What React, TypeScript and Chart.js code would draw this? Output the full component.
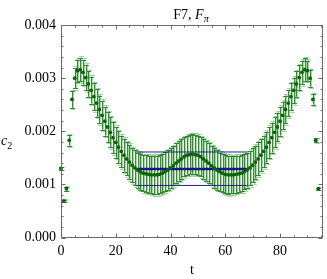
import React, { useEffect, useRef } from 'react';
import { Chart, registerables } from 'chart.js';

Chart.register(...registerables);

// ---- data ----
const times = [
  0, 1, 2, 3, 4, 5, 6, 7, 8, 9, 10, 11, 12, 13, 14, 15, 16, 17, 18, 19,
  20, 21, 22, 23, 24, 25, 26, 27, 28, 29, 30, 31, 32, 33, 34, 35, 36, 37, 38, 39,
  40, 41, 42, 43, 44, 45, 46, 47, 48, 49, 50, 51, 52, 53, 54, 55, 56, 57, 58, 59,
  60, 61, 62, 63, 64, 65, 66, 67, 68, 69, 70, 71, 72, 73, 74, 75, 76, 77, 78, 79,
  80, 81, 82, 83, 84, 85, 86, 87, 88, 89, 90, 91, 92, 93, 94,
];

const c2Values = [
  0.00130, 0.00069, 0.00092, 0.00183, 0.00260, 0.00300, 0.00314, 0.00316, 0.00311, 0.00301,
  0.00289, 0.00277, 0.00265, 0.00253, 0.00241, 0.00230, 0.00219, 0.00208, 0.00198, 0.00188,
  0.00179, 0.00170, 0.00162, 0.00155, 0.00148, 0.00142, 0.00136, 0.00131, 0.00127, 0.00124,
  0.00121, 0.00120, 0.00119, 0.00118, 0.00118, 0.00118, 0.00119, 0.00121, 0.00124, 0.00127,
  0.00131, 0.00135, 0.00140, 0.00144, 0.00148, 0.00152, 0.00155, 0.00156, 0.00157, 0.00156,
  0.00155, 0.00152, 0.00148, 0.00144, 0.00140, 0.00135, 0.00131, 0.00127, 0.00124, 0.00121,
  0.00119, 0.00118, 0.00118, 0.00118, 0.00119, 0.00120, 0.00121, 0.00124, 0.00127, 0.00131,
  0.00136, 0.00142, 0.00148, 0.00155, 0.00162, 0.00170, 0.00179, 0.00188, 0.00198, 0.00208,
  0.00219, 0.00230, 0.00241, 0.00253, 0.00265, 0.00277, 0.00289, 0.00301, 0.00311, 0.00316,
  0.00314, 0.00300, 0.00260, 0.00183, 0.00092,
];

// total (light) error
const errTotal = [
  0.00003, 0.00003, 0.00005, 0.00012, 0.00018, 0.00022, 0.00024, 0.00025, 0.00026, 0.00027,
  0.00027, 0.00028, 0.00028, 0.00029, 0.00029, 0.00030, 0.00030, 0.00031, 0.00031, 0.00032,
  0.00032, 0.00033, 0.00033, 0.00034, 0.00034, 0.00035, 0.00035, 0.00036, 0.00036, 0.00037,
  0.00037, 0.00038, 0.00038, 0.00038, 0.00039, 0.00039, 0.00039, 0.00039, 0.00040, 0.00040,
  0.00040, 0.00040, 0.00040, 0.00040, 0.00040, 0.00040, 0.00040, 0.00040, 0.00040, 0.00040,
  0.00040, 0.00040, 0.00040, 0.00040, 0.00040, 0.00040, 0.00040, 0.00040, 0.00039, 0.00039,
  0.00039, 0.00039, 0.00038, 0.00038, 0.00038, 0.00037, 0.00037, 0.00036, 0.00036, 0.00035,
  0.00035, 0.00034, 0.00034, 0.00033, 0.00033, 0.00032, 0.00032, 0.00031, 0.00031, 0.00030,
  0.00030, 0.00029, 0.00029, 0.00028, 0.00028, 0.00027, 0.00027, 0.00026, 0.00025, 0.00024,
  0.00022, 0.00018, 0.00012, 0.00005, 0.00003,
];

// statistical (dark) error
const errStat = [
  0.00002, 0.00002, 0.00004, 0.00010, 0.00016, 0.00019, 0.00021, 0.00022, 0.00023, 0.00024,
  0.00024, 0.00025, 0.00025, 0.00026, 0.00026, 0.00027, 0.00027, 0.00028, 0.00028, 0.00029,
  0.00029, 0.00030, 0.00030, 0.00031, 0.00031, 0.00032, 0.00032, 0.00033, 0.00033, 0.00034,
  0.00034, 0.00035, 0.00035, 0.00035, 0.00036, 0.00036, 0.00036, 0.00036, 0.00037, 0.00037,
  0.00037, 0.00037, 0.00037, 0.00037, 0.00037, 0.00037, 0.00037, 0.00037, 0.00037, 0.00037,
  0.00037, 0.00037, 0.00037, 0.00037, 0.00037, 0.00037, 0.00037, 0.00037, 0.00036, 0.00036,
  0.00036, 0.00036, 0.00035, 0.00035, 0.00035, 0.00034, 0.00034, 0.00033, 0.00033, 0.00032,
  0.00032, 0.00031, 0.00031, 0.00030, 0.00030, 0.00029, 0.00029, 0.00028, 0.00028, 0.00027,
  0.00027, 0.00026, 0.00026, 0.00025, 0.00025, 0.00024, 0.00024, 0.00023, 0.00022, 0.00021,
  0.00019, 0.00016, 0.00010, 0.00004, 0.00002,
];

const plateauRange = [27.5, 68];
const plateauCentral = 0.00129;
const plateauUpper = 0.00161;
const plateauLower = 0.00098;

const xMajorTicks = [0, 20, 40, 60, 80];
const yMajorTicks = [0, 0.001, 0.002, 0.003, 0.004];

const FONT = "'Liberation Serif', 'DejaVu Serif', serif";
const FRAME = '#6a6a6a';

const errorBarPlugin = {
  id: 'errbars',
  beforeDatasetsDraw(chart: any) {
    const ctx = chart.ctx;
    const xs = chart.scales.x;
    const ys = chart.scales.y;
    ctx.save();
    ctx.lineWidth = 1;
    const draw = (err: number[], color: string, dx: number) => {
      ctx.strokeStyle = color;
      ctx.beginPath();
      for (let i = 0; i < times.length; i++) {
        const px = Math.round(xs.getPixelForValue(times[i])) + 0.5 + dx;
        const yTop = ys.getPixelForValue(c2Values[i] + err[i]);
        const yBot = ys.getPixelForValue(c2Values[i] - err[i]);
        ctx.moveTo(px, yTop);
        ctx.lineTo(px, yBot);
        ctx.moveTo(px - 2.5, Math.round(yTop) + 0.5);
        ctx.lineTo(px + 2.5, Math.round(yTop) + 0.5);
        ctx.moveTo(px - 2.5, Math.round(yBot) + 0.5);
        ctx.lineTo(px + 2.5, Math.round(yBot) + 0.5);
      }
      ctx.stroke();
    };
    draw(errTotal, 'rgba(130,195,130,0.7)', 1);
    draw(errStat, 'rgba(40,135,40,0.95)', 0);
    ctx.restore();
  },
};

const framePlugin = {
  id: 'frame',
  afterDatasetsDraw(chart: any) {
    const ctx = chart.ctx;
    const { left, right, top, bottom } = chart.chartArea;
    const xs = chart.scales.x;
    const ys = chart.scales.y;
    ctx.save();
    ctx.strokeStyle = FRAME;
    ctx.lineWidth = 1;
    const L = Math.round(left) + 0.5;
    const R = Math.round(right) - 0.5;
    const T = Math.round(top) + 0.5;
    const B = Math.round(bottom) - 0.5;
    ctx.beginPath();
    ctx.rect(L, T, R - L, B - T);
    ctx.stroke();
    ctx.beginPath();
    for (let v = 0; v <= 95; v += 5) {
      const major = v % 20 === 0;
      const len = major ? 4 : 2;
      const px = Math.round(xs.getPixelForValue(v)) + 0.5;
      ctx.moveTo(px, B);
      ctx.lineTo(px, B - len);
      ctx.moveTo(px, T);
      ctx.lineTo(px, T + len);
    }
    for (let k = 0; k <= 20; k++) {
      const v = k * 0.0002;
      const major = k % 5 === 0;
      const len = major ? 4 : 2;
      const py = Math.round(ys.getPixelForValue(v)) + 0.5;
      ctx.moveTo(L, py);
      ctx.lineTo(L + len, py);
      ctx.moveTo(R, py);
      ctx.lineTo(R - len, py);
    }
    ctx.stroke();
    ctx.restore();
  },
};

const textPlugin = {
  id: 'texts',
  afterDraw(chart: any) {
    const ctx = chart.ctx;
    ctx.save();
    ctx.fillStyle = '#000';
    ctx.textBaseline = 'alphabetic';
    ctx.textAlign = 'left';
    // title: F7, F_π
    const base = 18.5;
    ctx.font = `14px ${FONT}`;
    const part1 = 'F7, ';
    const w1 = ctx.measureText(part1).width;
    ctx.font = `italic 14px ${FONT}`;
    const w2 = ctx.measureText('F').width;
    ctx.font = `italic 10px ${FONT}`;
    const w3 = ctx.measureText('π').width;
    const total = w1 + w2 + w3;
    const x0 = 191 - total / 2;
    ctx.font = `14px ${FONT}`;
    ctx.fillText(part1, x0, base);
    ctx.font = `italic 14px ${FONT}`;
    ctx.fillText('F', x0 + w1, base);
    ctx.font = `italic 10px ${FONT}`;
    ctx.fillText('π', x0 + w1 + w2, base + 3);
    // y label: c_2
    ctx.font = `italic 14px ${FONT}`;
    ctx.fillText('c', 1, 145);
    const wc = ctx.measureText('c').width;
    ctx.font = `10px ${FONT}`;
    ctx.fillText('2', 1 + wc, 148.5);
    ctx.restore();
  },
};

export default function App() {
  const ref = useRef<HTMLCanvasElement | null>(null);
  useEffect(() => {
    if (!ref.current) return;
    const points = times.map((t, i) => ({ x: t, y: c2Values[i] }));
    const hline = (y: number) => [
      { x: plateauRange[0], y },
      { x: plateauRange[1], y },
    ];
    const chart = new Chart(ref.current, {
      type: 'scatter',
      data: {
        datasets: [
          {
            data: points,
            backgroundColor: '#0a650a',
            borderWidth: 0,
            pointRadius: 1.9,
            pointStyle: 'circle',
            clip: false,
            order: 0,
          } as any,
          {
            data: hline(plateauCentral),
            showLine: true,
            borderColor: '#161680',
            borderWidth: 2.5,
            pointRadius: 0,
            order: 1,
          },
          {
            data: hline(plateauUpper),
            showLine: true,
            borderColor: '#22228a',
            borderWidth: 1,
            pointRadius: 0,
            order: 1,
          },
          {
            data: hline(plateauLower),
            showLine: true,
            borderColor: '#22228a',
            borderWidth: 1,
            pointRadius: 0,
            order: 1,
          },
        ],
      },
      options: {
        animation: false,
        responsive: false,
        devicePixelRatio: 1,
        layout: { padding: { top: 25, right: 1, left: 0, bottom: 0 } },
        plugins: {
          legend: { display: false },
          tooltip: { enabled: false },
        },
        scales: {
          x: {
            type: 'linear',
            min: 0,
            max: 95.7,
            grid: { display: false, drawTicks: false },
            border: { display: false },
            afterBuildTicks: (s: any) => {
              s.ticks = xMajorTicks.map((v) => ({ value: v }));
            },
            ticks: {
              font: { family: FONT, size: 14 },
              color: '#000',
              padding: 5,
              maxRotation: 0,
              autoSkip: false,
            },
            title: {
              display: true,
              text: 't',
              font: { family: FONT, size: 14 },
              color: '#000',
              padding: { top: 0, bottom: 0 },
            },
            afterFit: (s: any) => {
              s.height = 41.5;
            },
          },
          y: {
            type: 'linear',
            min: 0,
            max: 0.004,
            grid: { display: false, drawTicks: false },
            border: { display: false },
            afterBuildTicks: (s: any) => {
              s.ticks = yMajorTicks.map((v) => ({ value: v }));
            },
            ticks: {
              font: { family: FONT, size: 14 },
              color: '#000',
              padding: 5,
              autoSkip: false,
              callback: (v: any) => Number(v).toFixed(3),
            },
            afterFit: (s: any) => {
              s.width = 61;
            },
          },
        },
      },
      plugins: [errorBarPlugin, framePlugin, textPlugin],
    } as any);
    return () => chart.destroy();
  }, []);
  return (
    <div style={{ position: 'absolute', left: 0, top: 0, width: 327, height: 279, background: '#fff' }}>
      <canvas ref={ref} width={327} height={279} style={{ width: 327, height: 279, display: 'block' }} />
    </div>
  );
}
